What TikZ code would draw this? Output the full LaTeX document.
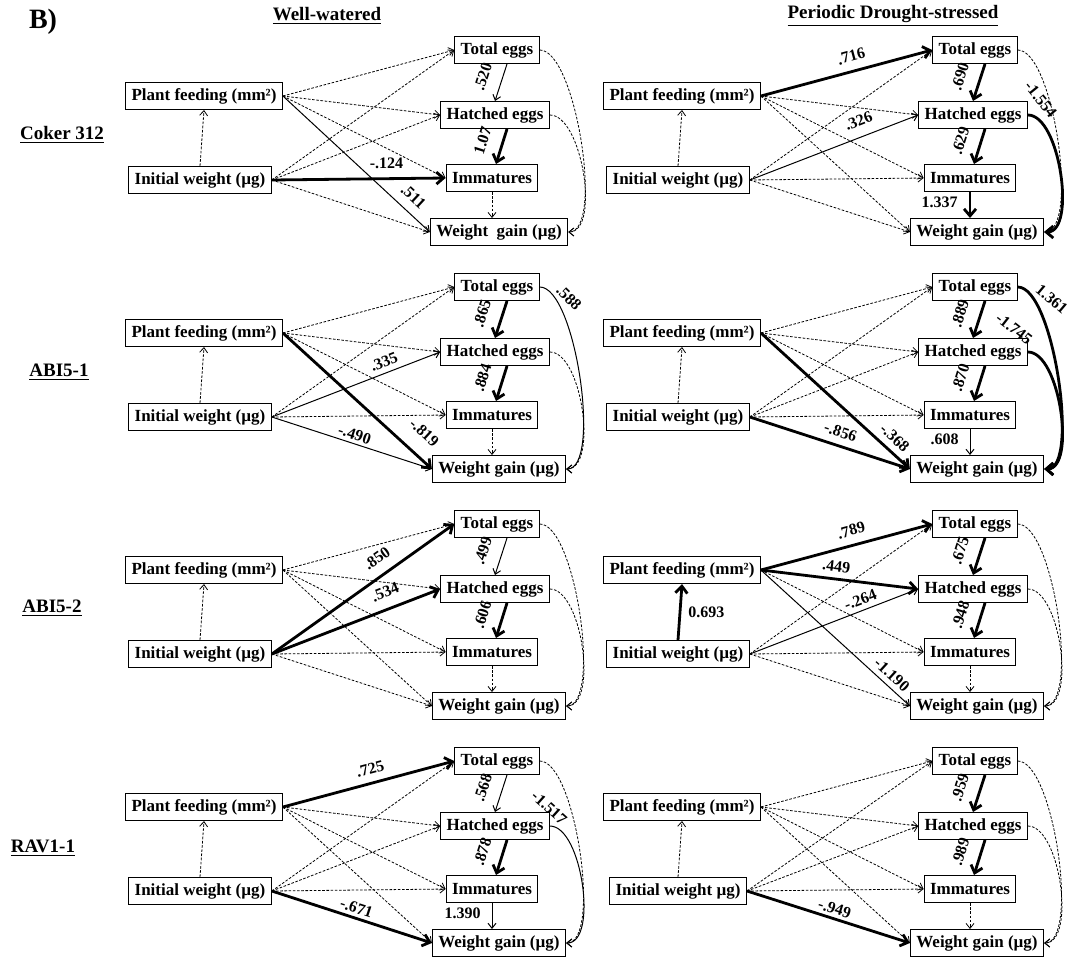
\documentclass[tikz,border=0pt]{standalone}
\usepackage{fontspec}
\setmainfont{Liberation Serif}
\usetikzlibrary{arrows.meta}

\newcommand\boxfont{\fontsize{8.5}{10}\selectfont\bfseries}
\newcommand\lblfont{\fontsize{8}{9}\selectfont\bfseries}
\newcommand\headfont{\fontsize{9.5}{11}\selectfont\bfseries}

\tikzset{
  box/.style={draw, line width=0.5pt, font=\boxfont, inner xsep=3pt, inner ysep=2pt, minimum height=13.5pt},
  head/.style={font=\headfont},
  ns/.style={line width=0.4pt, dash pattern=on 1.3pt off 0.8pt, -{Straight Barb[length=2.5pt,width=4pt]}},
  sg/.style={line width=0.5pt, -{Straight Barb[length=2.5pt,width=4pt]}},
  st/.style={line width=1.4pt, -{Straight Barb[length=3.5pt,width=6pt]}},
  lbl/.style={font=\lblfont, inner sep=1.5pt},
  vl/.style={lbl, sloped, above=5pt},
}

\begin{document}
\begin{tikzpicture}[x=0.5pt,y=-0.5pt]
  \useasboundingbox (0,0) rectangle (1070,959);

  % headings
  \node[font=\fontsize{14}{16}\selectfont\bfseries] (part) at (43,22) {B)};
  \node[head] (ww) at (327,16) {\underline{Well-watered}};
  \node[head] (pds) at (893,16) {\underline{Periodic Drought-stressed}};
  \node[head] (coker) at (62,135) {\underline{Coker 312}};
  \node[head] (abia) at (59,372) {\underline{ABI5-1}};
  \node[head] (abib) at (52,608) {\underline{ABI5-2}};
  \node[head] (rav) at (43,848) {\underline{RAV1-1}};

  % boxes of the eight path models
  \foreach \p/\dx/\dy/\iw/\wg in {
      w1/0/0/{Initial weight (µg)}/{Weight\ \ gain (µg)},
      d1/478/0/{Initial weight (µg)}/{Weight gain (µg)},
      w2/0/237/{Initial weight (µg)}/{Weight gain (µg)},
      d2/478/237/{Initial weight (µg)}/{Weight gain (µg)},
      w3/0/474/{Initial weight (µg)}/{Weight gain (µg)},
      d3/478/474/{Initial weight (µg)}/{Weight gain (µg)},
      w4/0/711/{Initial weight (µg)}/{Weight gain (µg)},
      d4/478/711/{Initial weight µg)}/{Weight gain (µg)}} {
    \begin{scope}[shift={(\dx,\dy)}]
      \node[box] (\p pf) at (204,96) {Plant feeding (mm²)};
      \node[box] (\p iw) at (200,180) {\iw};
      \node[box] (\p te) at (497,50) {Total eggs};
      \node[box] (\p he) at (495,115) {Hatched eggs};
      \node[box] (\p im) at (492,178) {Immatures};
      \node[box] (\p wg) at (499,232) {\wg};
    \end{scope}
  }

  % Coker 312, well-watered
  \draw[ns] (w1iw.north) -- (w1pf.south);
  \draw[ns] (w1pf.east) -- (w1te.west);
  \draw[ns] (w1pf.east) -- (w1he.west);
  \draw[ns] (w1pf.east) -- (w1im.west);
  \draw[sg] (w1pf.east) -- node[lbl, pos=0.82, sloped, above=3pt] {.511} (w1wg.west);
  \draw[ns] (w1iw.east) -- (w1te.west);
  \draw[ns] (w1iw.east) -- (w1he.west);
  \draw[st] (w1iw.east) -- node[lbl, pos=0.66, above=3pt] {-.124} (w1im.west);
  \draw[ns] (w1iw.east) -- (w1wg.west);
  \draw[sg] ([xshift=5pt]w1te.south) -- node[vl] {.520} (w1he.north);
  \draw[st] ([xshift=6pt]w1he.south) -- node[vl] {1.07} ([xshift=2pt]w1im.north);
  \draw[ns] (w1im.south) -- (w1im.south |- w1wg.north);
  \draw[ns] (w1te.east) to[out=0, in=0, looseness=0.5] (w1wg.east);
  \draw[ns] (w1he.east) to[out=0, in=0, looseness=0.7] (w1wg.east);

  % Coker 312, drought
  \draw[ns] (d1iw.north) -- (d1pf.south);
  \draw[st] (d1pf.east) -- node[lbl, pos=0.55, sloped, above=2.5pt] {.716} (d1te.west);
  \draw[ns] (d1pf.east) -- (d1he.west);
  \draw[ns] (d1pf.east) -- (d1im.west);
  \draw[ns] (d1pf.east) -- (d1wg.west);
  \draw[ns] (d1iw.east) -- (d1te.west);
  \draw[sg] (d1iw.east) -- node[lbl, pos=0.68, sloped, above=3.5pt] {.326} (d1he.west);
  \draw[ns] (d1iw.east) -- (d1im.west);
  \draw[ns] (d1iw.east) -- (d1wg.west);
  \draw[st] ([xshift=5pt]d1te.south) -- node[vl] {.690} (d1he.north);
  \draw[st] ([xshift=6pt]d1he.south) -- node[vl] {.629} ([xshift=2pt]d1im.north);
  \draw[st] (d1im.south) -- node[lbl, pos=0.4, left=4pt] {1.337} (d1im.south |- d1wg.north);
  \draw[ns] (d1te.east) to[out=0, in=0, looseness=0.5]
    node[lbl, pos=0.32, rotate=-51, anchor=north] {-1.554} (d1wg.east);
  \draw[st] (d1he.east) to[out=0, in=0, looseness=0.7] (d1wg.east);

  % ABI5-1, well-watered
  \draw[ns] (w2iw.north) -- (w2pf.south);
  \draw[ns] (w2pf.east) -- (w2te.west);
  \draw[ns] (w2pf.east) -- (w2he.west);
  \draw[ns] (w2pf.east) -- (w2im.west);
  \draw[st] (w2pf.east) -- node[lbl, pos=0.85, sloped, above=6pt] {-.819} (w2wg.west);
  \draw[ns] (w2iw.east) -- (w2te.west);
  \draw[sg] (w2iw.east) -- node[lbl, pos=0.69, sloped, above=1pt] {.335} (w2he.west);
  \draw[ns] (w2iw.east) -- (w2im.west);
  \draw[sg] (w2iw.east) -- node[lbl, pos=0.5, sloped, above=0pt] {-.490} (w2wg.west);
  \draw[st] ([xshift=5pt]w2te.south) -- node[vl] {.865} (w2he.north);
  \draw[st] ([xshift=6pt]w2he.south) -- node[vl] {.884} ([xshift=2pt]w2im.north);
  \draw[ns] (w2im.south) -- (w2im.south |- w2wg.north);
  \draw[sg] (w2te.east) to[out=0, in=0, looseness=0.5]
    node[lbl, pos=0.1, rotate=-44, anchor=south west] {.588} (w2wg.east);
  \draw[ns] (w2he.east) to[out=0, in=0, looseness=0.7] (w2wg.east);

  % ABI5-1, drought
  \draw[ns] (d2iw.north) -- (d2pf.south);
  \draw[ns] (d2pf.east) -- (d2te.west);
  \draw[ns] (d2pf.east) -- (d2he.west);
  \draw[ns] (d2pf.east) -- (d2im.west);
  \draw[st] (d2pf.east) -- node[lbl, pos=0.84, sloped, above=1.5pt] {-.368} (d2wg.west);
  \draw[ns] (d2iw.east) -- (d2te.west);
  \draw[ns] (d2iw.east) -- (d2he.west);
  \draw[ns] (d2iw.east) -- (d2im.west);
  \draw[st] (d2iw.east) -- node[lbl, pos=0.54, sloped, above=2pt] {-.856} (d2wg.west);
  \draw[st] ([xshift=5pt]d2te.south) -- node[vl] {.889} (d2he.north);
  \draw[st] ([xshift=6pt]d2he.south) -- node[vl] {.870} ([xshift=2pt]d2im.north);
  \draw[sg] (d2im.south) -- node[lbl, pos=0.4, left=4pt] {.608} (d2im.south |- d2wg.north);
  \draw[st] (d2te.east) to[out=0, in=0, looseness=0.5]
    node[lbl, pos=0.1, rotate=-40, anchor=south west] {1.361} (d2wg.east);
  \draw[st] (d2he.east) to[out=0, in=0, looseness=0.7]
    node[lbl, pos=0, rotate=-38, anchor=south east] {-1.745} (d2wg.east);

  % ABI5-2, well-watered
  \draw[ns] (w3iw.north) -- (w3pf.south);
  \draw[ns] (w3pf.east) -- (w3te.west);
  \draw[ns] (w3pf.east) -- (w3he.west);
  \draw[ns] (w3pf.east) -- (w3im.west);
  \draw[ns] (w3pf.east) -- (w3wg.west);
  \draw[st] (w3iw.east) -- node[lbl, pos=0.63, sloped, above=3.5pt] {.850} (w3te.west);
  \draw[st] (w3iw.east) -- node[lbl, pos=0.71, sloped, above=3.5pt] {.534} (w3he.west);
  \draw[ns] (w3iw.east) -- (w3im.west);
  \draw[ns] (w3iw.east) -- (w3wg.west);
  \draw[sg] ([xshift=5pt]w3te.south) -- node[vl] {.499} (w3he.north);
  \draw[st] ([xshift=6pt]w3he.south) -- node[vl] {.606} ([xshift=2pt]w3im.north);
  \draw[ns] (w3im.south) -- (w3im.south |- w3wg.north);
  \draw[ns] (w3te.east) to[out=0, in=0, looseness=0.5] (w3wg.east);
  \draw[ns] (w3he.east) to[out=0, in=0, looseness=0.7] (w3wg.east);

  % ABI5-2, drought
  \draw[st] (d3iw.north) -- node[lbl, right=2pt] {0.693} (d3pf.south);
  \draw[st] (d3pf.east) -- node[lbl, pos=0.55, sloped, above=2.5pt] {.789} (d3te.west);
  \draw[st] (d3pf.east) -- node[lbl, pos=0.47, sloped, above=1.5pt] {.449} (d3he.west);
  \draw[ns] (d3pf.east) -- (d3im.west);
  \draw[sg] (d3pf.east) -- node[lbl, pos=0.83, sloped, above=1pt] {-1.190} (d3wg.west);
  \draw[ns] (d3iw.east) -- (d3te.west);
  \draw[sg] (d3iw.east) -- node[lbl, pos=0.68, sloped, above=1pt] {-.264} (d3he.west);
  \draw[ns] (d3iw.east) -- (d3im.west);
  \draw[ns] (d3iw.east) -- (d3wg.west);
  \draw[st] ([xshift=5pt]d3te.south) -- node[vl] {.675} (d3he.north);
  \draw[st] ([xshift=6pt]d3he.south) -- node[vl] {.948} ([xshift=2pt]d3im.north);
  \draw[ns] (d3im.south) -- (d3im.south |- d3wg.north);
  \draw[ns] (d3te.east) to[out=0, in=0, looseness=0.5] (d3wg.east);
  \draw[ns] (d3he.east) to[out=0, in=0, looseness=0.7] (d3wg.east);

  % RAV1-1, well-watered
  \draw[ns] (w4iw.north) -- (w4pf.south);
  \draw[st] (w4pf.east) -- node[lbl, pos=0.53, sloped, above=2pt] {.725} (w4te.west);
  \draw[ns] (w4pf.east) -- (w4he.west);
  \draw[ns] (w4pf.east) -- (w4im.west);
  \draw[ns] (w4pf.east) -- (w4wg.west);
  \draw[ns] (w4iw.east) -- (w4te.west);
  \draw[ns] (w4iw.east) -- (w4he.west);
  \draw[ns] (w4iw.east) -- (w4im.west);
  \draw[st] (w4iw.east) -- node[lbl, pos=0.51, sloped, above=0pt] {-.671} (w4wg.west);
  \draw[sg] ([xshift=5pt]w4te.south) -- node[vl] {.568} (w4he.north);
  \draw[st] ([xshift=6pt]w4he.south) -- node[vl] {.878} ([xshift=2pt]w4im.north);
  \draw[sg] (w4im.south) -- node[lbl, pos=0.4, left=4pt] {1.390} (w4im.south |- w4wg.north);
  \draw[ns] (w4te.east) to[out=0, in=0, looseness=0.5]
    node[lbl, pos=0.37, rotate=-42, anchor=north east] {-1.517} (w4wg.east);
  \draw[sg] (w4he.east) to[out=0, in=0, looseness=0.7] (w4wg.east);

  % RAV1-1, drought
  \draw[ns] (d4iw.north) -- (d4pf.south);
  \draw[ns] (d4pf.east) -- (d4te.west);
  \draw[ns] (d4pf.east) -- (d4he.west);
  \draw[ns] (d4pf.east) -- (d4im.west);
  \draw[ns] (d4pf.east) -- (d4wg.west);
  \draw[ns] (d4iw.east) -- (d4te.west);
  \draw[ns] (d4iw.east) -- (d4he.west);
  \draw[ns] (d4iw.east) -- (d4im.west);
  \draw[st] (d4iw.east) -- node[lbl, pos=0.52, sloped, above=0pt] {-.949} (d4wg.west);
  \draw[st] ([xshift=5pt]d4te.south) -- node[vl] {.959} (d4he.north);
  \draw[st] ([xshift=6pt]d4he.south) -- node[vl] {.989} ([xshift=2pt]d4im.north);
  \draw[ns] (d4im.south) -- (d4im.south |- d4wg.north);
  \draw[ns] (d4te.east) to[out=0, in=0, looseness=0.5] (d4wg.east);
  \draw[ns] (d4he.east) to[out=0, in=0, looseness=0.7] (d4wg.east);
\end{tikzpicture}
\end{document}
